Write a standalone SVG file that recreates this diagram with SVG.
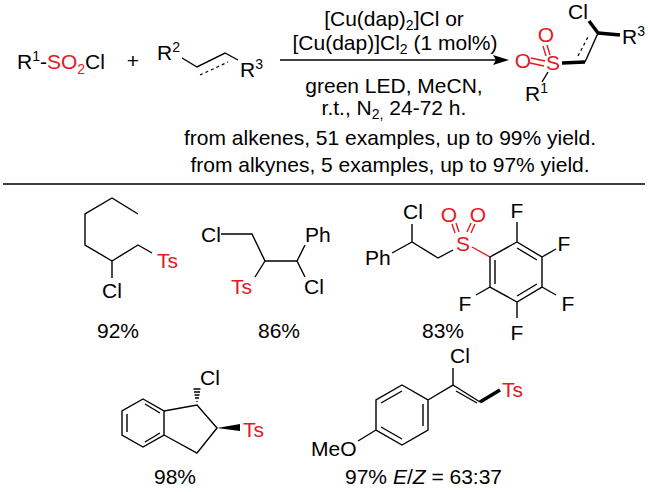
<svg xmlns="http://www.w3.org/2000/svg" width="648" height="492" viewBox="0 0 648 492">
<style>
text{font-family:"Liberation Sans",Arial,sans-serif;font-size:21px;fill:#000}
.r{fill:#e3191f}
.c{text-anchor:middle}
.b{stroke:#000;stroke-width:1.4;fill:none}
.bb{stroke:#000;stroke-width:3.5;fill:none}
.d{stroke:#000;stroke-width:1.2;fill:none;stroke-dasharray:3,3}
.rs{stroke:#e3191f;stroke-width:1.4;fill:none}
.s{font-size:14px}
</style>
<rect width="648" height="492" fill="#fff"/>
<!-- reaction -->
<text x="17" y="69">R<tspan class="s" dy="-8">1</tspan><tspan dy="8">-</tspan><tspan class="r">SO</tspan><tspan class="s r" dy="5">2</tspan><tspan dy="-5">Cl</tspan></text>
<text x="133" y="68" class="c">+</text>
<text x="157" y="60">R<tspan class="s" dy="-8">2</tspan></text>
<path class="b" d="M182,58 L197,67 L225,53 L238,60"/>
<path class="d" d="M200,75 L228,62"/>
<text x="240" y="77">R<tspan class="s" dy="-8">3</tspan></text>
<line class="b" x1="280" y1="60" x2="496" y2="60"/>
<path d="M509,60 L493,55 L496,60 L493,65Z"/>
<text x="394" y="26" class="c">[Cu(dap)<tspan class="s" dy="4">2</tspan><tspan dy="-4">]Cl or</tspan></text>
<text x="395" y="50" class="c">[Cu(dap)]Cl<tspan class="s" dy="4">2</tspan><tspan dy="-4"> (1 mol%)</tspan></text>
<text x="394" y="93" class="c">green LED, MeCN,</text>
<text x="394" y="115" class="c">r.t., N<tspan class="s" dy="4">2,</tspan><tspan dy="-4"> 24-72 h.</tspan></text>
<!-- product -->
<text x="523" y="68" class="c r">O</text>
<text x="553" y="70" class="c r">S</text>
<text x="546" y="42" class="c r">O</text>
<path class="rs" d="M531,58 L545,61 M530,63 L544,66 M543,46 L546,56 M547,45 L550,55"/>
<path class="bb" d="M562,63 L585,62"/>
<path class="b" d="M585,62 L598,33"/>
<path class="d" d="M578,56 L589,35"/>
<path class="bb" d="M598,33 L589,21"/>
<path class="bb" d="M598,33 L620,35"/>
<text x="578" y="19" class="c">Cl</text>
<text x="622" y="44">R<tspan class="s" dy="-8">3</tspan></text>
<path class="b" d="M548,72 L542,82"/>
<text x="525" y="101">R<tspan class="s" dy="-8">1</tspan></text>
<text x="390" y="145" class="c">from alkenes, 51 examples, up to 99% yield.</text>
<text x="390" y="172" class="c">from alkynes, 5 examples, up to 97% yield.</text>
<line class="b" x1="3" y1="184" x2="645" y2="184"/>
<!-- mol 1 -->
<path class="b" d="M138,214 L112,198 L85,214 L85,245 L112,261 L138,245 L152,253 M112,261 L112,278"/>
<text x="157" y="268" class="r">Ts</text>
<text x="112" y="298" class="c">Cl</text>
<text x="118" y="338" class="c">92%</text>
<!-- mol 2 -->
<text x="201" y="242">Cl</text>
<path class="b" d="M221,234 L252,234 L265,261 L297,261 L305,245 M265,261 L255,277 M297,261 L305,277"/>
<text x="305" y="242">Ph</text>
<text x="231" y="294" class="r">Ts</text>
<text x="304" y="294">Cl</text>
<text x="279" y="338" class="c">86%</text>
<!-- mol 3 -->
<text x="365" y="265">Ph</text>
<text x="413" y="219" class="c">Cl</text>
<path class="b" d="M392,253 L412,242 L438,258 L453,250 M412,242 L412,224"/>
<text x="463" y="251" class="c r">S</text>
<text x="449" y="222" class="c r">O</text>
<text x="478" y="222" class="c r">O</text>
<path class="rs" d="M455,233 L452,224 M459,232 L456,223 M467,232 L471,223 M471,233 L475,224 M472,247 L490,257"/>
<path class="b" d="M490,257 L517,242 L542,257 L542,287 L517,302 L490,287Z M517,248 L537,260 M537,284 L517,296 M495,284 L495,260 M517,242 L517,222 M542,257 L556,249 M542,287 L556,295 M517,302 L517,318 M490,287 L476,295"/>
<text x="517" y="218" class="c">F</text>
<text x="564" y="251" class="c">F</text>
<text x="568" y="311" class="c">F</text>
<text x="517" y="340" class="c">F</text>
<text x="465" y="311" class="c">F</text>
<text x="443" y="338" class="c">83%</text>
<!-- mol 4 -->
<path class="b" d="M143,399 L164,411 L164,435 L143,447 L122,435 L122,411Z M145,404 L160,413 M160,433 L145,442 M127,432 L127,414 M164,411 L197,405 L217,428 L197,453 L164,435"/>
<path class="b" d="M197,402 L197,401 M195,398 L199,398 M194.5,395 L199.5,395 M194,392 L200,392 M193.5,389 L200.5,389"/>
<text x="210" y="385" class="c">Cl</text>
<path d="M217,428 L240,424 L240,431Z"/>
<text x="243" y="437" class="r">Ts</text>
<text x="175" y="484" class="c">98%</text>
<!-- mol 5 -->
<path class="b" d="M402,385 L428,400 L428,430 L402,445 L376,430 L376,400Z M381,403 L402,391 M423,404 L423,426 M402,439 L381,427 M428,400 L453,385 L453,368 M453,385 L480,402 M456,391 L477,403 M376,430 L358,441"/>
<path class="bb" d="M480,402 L500,390"/>
<text x="460" y="363" class="c">Cl</text>
<text x="502" y="397" class="r">Ts</text>
<text x="311" y="456">MeO</text>
<text x="345" y="484">97% <tspan font-style="italic">E</tspan>/<tspan font-style="italic">Z</tspan> = 63:37</text>
</svg>
